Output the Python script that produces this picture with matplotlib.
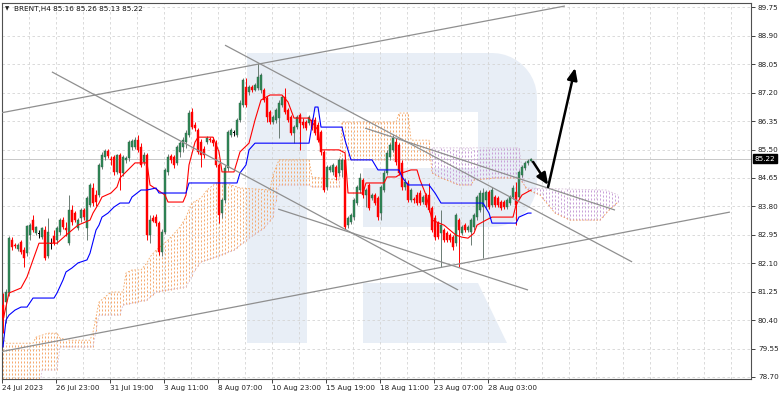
import numpy as np
import matplotlib
matplotlib.use("Agg")
import matplotlib.pyplot as plt
from matplotlib.patches import Polygon

# BRENT H4 candles, one value per bar (bar 0 = 24 Jul 2023)
opens = [80.85, 80.94, 81.21, 82.79, 82.64, 82.52, 82.73, 82.49, 82.40, 82.94,
         83.39, 83.00, 82.97, 82.88, 83.09, 82.32, 82.67, 82.91, 82.79, 83.03,
         83.39, 83.15, 82.70, 83.69, 83.60, 83.15, 83.45, 83.69, 83.15, 83.84,
         84.35, 84.14, 84.14, 84.98, 85.28, 85.46, 85.22, 85.28, 84.83, 85.34,
         84.80, 85.19, 85.25, 85.57, 85.57, 85.78, 85.57, 85.13, 85.34, 82.94,
         83.45, 83.48, 83.30, 82.43, 83.03, 84.83, 85.31, 85.28, 85.10, 85.43,
         85.57, 85.72, 85.93, 86.62, 86.23, 86.08, 85.72, 85.52, 85.72, 85.81,
         85.78, 85.69, 85.04, 83.60, 83.99, 84.95, 85.93, 85.99, 85.93, 86.38,
         86.83, 87.37, 87.22, 87.37, 87.28, 87.34, 87.28, 87.28, 87.04, 86.62,
         86.32, 86.38, 86.44, 86.83, 87.07, 86.68, 86.47, 85.99, 86.17, 86.53,
         86.32, 86.32, 86.29, 86.38, 86.38, 86.23, 86.02, 85.43, 84.38, 84.89,
         84.83, 84.98, 84.80, 84.89, 85.19, 83.24, 83.33, 83.48, 83.90, 84.29,
         84.59, 84.14, 84.44, 84.05, 84.14, 84.05, 83.60, 84.29, 84.80, 85.28,
         85.49, 85.72, 85.63, 85.10, 84.38, 84.50, 83.99, 84.02, 84.14, 84.20,
         83.93, 84.14, 84.14, 83.75, 83.45, 83.30, 83.00, 83.09, 83.00, 82.94,
         82.88, 82.70, 83.39, 83.00, 83.24, 83.09, 83.03, 83.18, 83.48, 83.69,
         83.78, 83.99, 84.23, 83.84, 84.08, 84.05, 83.93, 83.93, 83.78, 83.90,
         84.08, 84.23, 84.08, 84.74, 84.95, 85.10, 85.16]
highs = [81.21, 81.33, 82.91, 82.88, 82.70, 82.70, 82.79, 82.58, 83.24, 83.30,
         83.54, 83.21, 83.09, 83.18, 83.21, 83.45, 82.85, 83.09, 83.21, 83.45,
         83.48, 83.33, 84.14, 83.84, 83.66, 83.45, 83.75, 83.75, 84.11, 84.50,
         84.50, 84.29, 85.10, 85.43, 85.52, 85.52, 85.31, 85.34, 85.37, 85.40,
         85.34, 85.31, 85.78, 85.81, 85.87, 85.93, 85.69, 85.43, 85.40, 83.54,
         83.54, 83.57, 83.36, 83.12, 84.95, 85.37, 85.37, 85.34, 85.63, 85.75,
         85.87, 86.08, 86.68, 86.74, 86.32, 86.14, 85.81, 85.60, 85.90, 85.87,
         85.87, 85.78, 85.10, 84.05, 85.04, 86.08, 86.14, 86.08, 86.44, 86.98,
         87.64, 87.64, 87.43, 87.43, 87.49, 88.09, 87.79, 87.34, 87.10, 86.68,
         86.53, 86.74, 86.98, 87.13, 87.34, 86.74, 86.53, 86.23, 86.53, 86.59,
         86.44, 86.38, 86.53, 86.44, 86.47, 86.32, 86.08, 85.49, 85.04, 85.04,
         85.10, 85.04, 85.25, 85.25, 85.25, 83.51, 83.60, 84.05, 84.44, 84.80,
         84.65, 84.35, 84.50, 84.20, 84.20, 84.11, 84.44, 84.89, 85.49, 85.69,
         85.93, 85.84, 85.69, 85.19, 84.65, 84.59, 84.35, 84.08, 84.23, 84.29,
         84.14, 84.20, 84.50, 83.81, 83.54, 83.36, 83.69, 83.15, 83.06, 83.00,
         82.94, 83.60, 83.45, 83.24, 83.30, 83.24, 83.45, 83.60, 84.14, 84.29,
         84.35, 84.29, 84.29, 84.38, 84.14, 84.11, 83.99, 83.99, 84.05, 84.14,
         84.44, 84.53, 84.89, 85.04, 85.16, 85.22, 85.26]
lows = [80.01, 80.31, 81.12, 82.49, 82.55, 82.46, 82.38, 81.99, 82.32, 82.79,
        83.03, 82.94, 82.85, 82.82, 82.20, 82.26, 82.52, 82.64, 82.67, 82.94,
        83.12, 82.91, 82.64, 83.24, 83.33, 83.09, 83.33, 83.39, 82.79, 83.78,
        83.81, 83.81, 84.08, 84.92, 85.19, 85.25, 85.04, 84.74, 84.77, 84.29,
        84.71, 85.10, 85.16, 85.49, 85.52, 85.43, 84.98, 85.04, 82.79, 82.70,
        83.33, 83.21, 82.35, 82.32, 82.97, 84.74, 85.10, 84.95, 85.04, 85.28,
        85.43, 85.55, 85.87, 86.11, 86.05, 85.37, 84.98, 85.25, 85.66, 85.72,
        85.60, 84.98, 83.30, 83.45, 83.90, 84.86, 85.87, 85.90, 85.87, 86.32,
        86.77, 86.77, 87.13, 87.22, 87.25, 87.28, 87.19, 86.92, 86.32, 86.26,
        86.26, 86.29, 85.84, 86.77, 86.56, 86.32, 85.93, 85.69, 86.11, 85.49,
        86.14, 86.08, 86.23, 86.08, 85.93, 85.72, 85.34, 84.23, 84.29, 84.83,
        84.74, 84.59, 84.71, 84.68, 83.12, 83.15, 83.27, 83.39, 83.84, 84.20,
        84.05, 83.78, 83.69, 83.99, 83.84, 83.39, 83.39, 84.23, 84.74, 85.19,
        85.43, 85.04, 84.74, 84.29, 84.29, 83.93, 83.93, 83.90, 83.84, 83.84,
        83.87, 83.78, 83.63, 83.03, 82.79, 82.82, 81.99, 82.73, 82.73, 82.73,
        82.49, 82.61, 81.99, 82.94, 83.03, 83.03, 82.64, 83.09, 83.39, 83.63,
        82.26, 83.72, 83.72, 83.78, 83.78, 83.78, 83.69, 83.72, 83.72, 83.84,
        84.02, 83.24, 84.02, 84.68, 84.89, 85.04, 85.13]
closes = [80.46, 81.24, 82.85, 82.58, 82.61, 82.64, 82.43, 82.26, 83.21, 83.24,
          83.09, 83.18, 82.97, 83.15, 82.26, 83.03, 82.67, 82.70, 83.15, 83.39,
          83.18, 83.09, 83.69, 83.33, 83.39, 83.39, 83.69, 83.48, 84.05, 84.44,
          83.90, 83.93, 85.04, 85.34, 85.46, 85.31, 85.19, 84.83, 85.34, 84.80,
          85.28, 85.25, 85.72, 85.75, 85.78, 85.49, 85.04, 85.34, 82.94, 83.39,
          83.36, 83.30, 82.43, 83.03, 84.89, 85.28, 85.19, 85.04, 85.57, 85.69,
          85.78, 85.99, 86.59, 86.17, 86.14, 85.43, 85.34, 85.34, 85.84, 85.78,
          85.69, 85.04, 83.54, 83.99, 84.95, 86.02, 86.08, 85.99, 86.38, 86.89,
          87.58, 86.83, 87.37, 87.28, 87.43, 87.67, 87.73, 86.98, 86.47, 86.32,
          86.47, 86.68, 86.89, 87.07, 86.62, 86.38, 85.99, 86.17, 86.47, 86.29,
          86.23, 86.14, 86.47, 86.14, 85.99, 85.78, 85.43, 84.29, 84.98, 84.98,
          85.04, 84.68, 85.19, 85.19, 83.18, 83.45, 83.54, 83.99, 84.38, 84.65,
          84.14, 84.29, 83.75, 84.14, 83.90, 83.48, 84.38, 84.80, 85.40, 85.63,
          85.84, 85.13, 84.80, 84.38, 84.53, 83.99, 84.29, 83.99, 83.90, 83.90,
          84.08, 83.84, 83.69, 83.09, 82.88, 82.88, 83.24, 82.79, 82.79, 82.79,
          82.58, 83.54, 83.09, 83.18, 83.09, 83.18, 83.39, 83.54, 84.08, 84.20,
          84.20, 84.23, 83.78, 84.29, 83.84, 83.84, 83.75, 83.78, 83.99, 84.08,
          84.35, 83.84, 84.83, 84.98, 85.10, 85.16, 85.22]

# Ichimoku lines, read as (bar, price) vertices
tenkan_bar = [0, 2, 6, 8, 10, 12, 18, 21, 25, 29, 30, 32, 33, 36, 38, 39, 41, 44, 48, 49,
              54, 55, 60, 61, 62, 64, 65, 70, 72, 73, 77, 79, 82, 84, 86, 89, 93, 95, 97, 102,
              105, 106, 112, 114, 115, 120, 121, 127, 128, 131, 133, 136, 138, 139, 141, 142,
              143, 147, 151, 153, 155, 157, 158, 161, 163, 170, 171, 173, 176]
tenkan_val = [80.40, 81.21, 81.36, 81.69, 82.20, 82.70, 82.70, 82.94, 83.24, 83.39,
              83.60, 83.90, 84.08, 84.20, 84.38, 84.65, 84.83, 85.10, 85.10, 84.44,
              84.14, 83.93, 83.93, 84.14, 85.04, 85.72, 85.87, 85.87, 85.43, 84.83,
              84.83, 85.43, 85.69, 86.38, 86.98, 87.13, 87.13, 86.92, 86.44, 86.44,
              86.08, 85.49, 85.49, 85.40, 84.20, 84.20, 84.50, 84.50, 84.68, 84.68,
              84.80, 84.89, 84.89, 84.59, 84.14, 83.78, 83.39, 83.24, 82.94, 82.88,
              82.85, 83.00, 83.24, 83.39, 83.48, 83.48, 83.84, 84.14, 84.29]
kijun_bar = [0, 1, 2, 4, 6, 8, 10, 17, 18, 20, 21, 23, 25, 28, 29, 31, 32, 33, 35, 37,
             39, 42, 43, 46, 48, 51, 52, 61, 62, 78, 79, 81, 82, 84, 102, 104, 105, 106,
             113, 114, 116, 123, 125, 132, 133, 135, 142, 144, 146, 160, 162, 163, 171,
             172, 175, 176]
kijun_val = [79.60, 80.40, 80.55, 80.70, 80.79, 80.79, 81.06, 81.06, 81.21, 81.60,
             81.84, 81.96, 82.11, 82.20, 82.40, 83.09, 83.24, 83.48, 83.60, 83.78,
             83.90, 83.90, 84.08, 84.29, 84.29, 84.35, 84.20, 84.20, 84.50, 84.50,
             84.80, 85.04, 85.49, 85.69, 85.69, 86.77, 86.77, 86.17, 86.17, 85.78,
             85.19, 85.19, 84.89, 84.89, 84.68, 84.44, 84.44, 84.20, 83.90, 83.90,
             83.60, 83.30, 83.30, 83.48, 83.60, 83.60]
span_a_bar = [0, 1, 10, 11, 15, 18, 19, 22, 29, 30, 31, 32, 36, 40, 41, 43, 46, 48, 49, 51,
              55, 59, 61, 63, 66, 68, 71, 76, 79, 89, 90, 92, 102, 103, 112, 113, 131, 132,
              135, 136, 142, 143, 146, 152, 156, 157, 164, 172, 175, 179, 184, 189, 199,
              202, 205]
span_a_val = [79.89, 79.71, 79.71, 79.89, 80.01, 80.01, 79.86, 79.80, 79.80, 80.04,
              80.49, 80.94, 81.24, 81.24, 81.81, 81.90, 81.90, 82.11, 82.29, 82.49,
              82.79, 83.18, 83.48, 83.90, 84.05, 84.29, 84.50, 84.44, 84.35, 84.29,
              84.74, 85.19, 85.19, 84.68, 84.59, 86.32, 86.32, 86.59, 86.59, 85.78,
              85.78, 84.80, 84.65, 84.44, 84.44, 84.59, 84.65, 84.65, 84.29, 84.14,
              83.60, 83.39, 83.39, 83.69, 83.93]
span_b_bar = [0, 12, 13, 18, 19, 30, 32, 39, 40, 48, 51, 61, 64, 66, 71, 77, 82, 87, 90, 92,
              102, 103, 112, 113, 142, 143, 172, 174, 201, 205]
span_b_val = [78.16, 78.16, 78.91, 78.91, 79.60, 79.60, 80.55, 80.55, 80.85, 81.00,
              81.24, 81.39, 81.90, 82.14, 82.29, 82.49, 82.85, 83.15, 83.48, 84.44,
              84.44, 84.38, 84.38, 85.19, 85.19, 85.55, 85.55, 84.35, 84.29, 84.14]

# hand drawn trend lines and forecast arrows, (bar, price) end points
trend_lines = [((-1, 86.59), (187.3, 89.79)),
               ((-1, 79.45), (242.3, 83.63)),
               ((16.3, 87.82), (151.7, 81.30)),
               ((74.0, 88.62), (209.7, 82.14)),
               ((91.7, 83.72), (175.0, 81.30)),
               ((120.7, 86.14), (204.0, 83.69))]
arrows = [((176.7, 85.13), (181.7, 84.44)),
          ((181.7, 84.38), (190.7, 87.94))]

time_labels = ["24 Jul 2023", "26 Jul 23:00", "31 Jul 19:00", "3 Aug 11:00", "8 Aug 07:00",
               "10 Aug 23:00", "15 Aug 19:00", "18 Aug 11:00", "23 Aug 07:00", "28 Aug 03:00"]
price_ticks = [78.70, 79.55, 80.40, 81.25, 82.10, 82.95, 83.80, 84.65, 85.50, 86.35,
               87.20, 88.05, 88.90, 89.75]
last_price = 85.22
header = "BRENT,H4 85.16 85.26 85.13 85.22"

W, H = 782, 396
FS = 5.2
fig = plt.figure(figsize=(W / 100, H / 100), dpi=100)
ax = fig.add_axes([2 / W, 17 / H, 749 / W, 376 / H])
ax.set_xlim(-1 / 3, 249.33)
ax.set_ylim(78.64, 89.88)

# watermark "R" (pixel outline converted to axes fraction)
def px(pts):
    return [((x - 2) / 749, (379 - y) / 376) for x, y in pts]

wm = "#e8eef6"
t = np.linspace(np.pi / 2, 0, 12)
arc1 = list(zip(492 + 45 * np.cos(t), 98 - 45 * np.sin(t)))
t2 = np.linspace(0, np.pi / 2, 12)
arc2 = list(zip(492 + 45 * np.cos(t2), 182 + 45 * np.sin(t2)))
stem = [(247, 53), (307, 53), (307, 343), (247, 343)]
bowl = [(306, 53)] + arc1 + arc2 + [(363, 227), (363, 168), (478, 168), (478, 112), (306, 112)]
leg = [(363, 283), (478, 283), (507, 343), (363, 343)]
for shape in (stem, bowl, leg):
    ax.add_patch(Polygon(px(shape), closed=True, transform=ax.transAxes,
                         fc=wm, ec="none", zorder=0))

# grid
for p in price_ticks:
    ax.axhline(p, color="#d4d4d4", lw=0.6, ls=(0, (3, 3)), zorder=1)
for b in range(9, 250, 9):
    ax.axvline(b - 0.33, color="#d4d4d4", lw=0.6, ls=(0, (3, 3)), zorder=1)
ax.axhline(last_price, color="#c8c8c8", lw=0.7, zorder=1.5)

# Ichimoku cloud (dotted columns)
cb = np.arange(0, max(span_a_bar) + 1)
sa = np.interp(cb, span_a_bar, span_a_val)
sb = np.interp(cb, span_b_bar, span_b_val)
bull = sa >= sb
ax.vlines(cb[bull], np.minimum(sa, sb)[bull], np.maximum(sa, sb)[bull],
          colors="#f5aa70", lw=0.72, linestyles=(0, (2, 2)), zorder=2)
ax.vlines(cb[~bull], np.minimum(sa, sb)[~bull], np.maximum(sa, sb)[~bull],
          colors="#c9a0d8", lw=0.72, linestyles=(0, (2, 2)), zorder=2)
ax.plot(span_a_bar, span_a_val, color="#f4a460", lw=0.6, ls=(0, (2, 2)), zorder=2.1)
ax.plot(span_b_bar, span_b_val, color="#d8bfd8", lw=0.6, ls=(0, (2, 2)), zorder=2.1)

# candles
o = np.array(opens)
h = np.array(highs)
l = np.array(lows)
c = np.array(closes)
x = np.arange(len(o))
up = c > o
dn = c < o
dj = c == o
ax.vlines(x[up], l[up], h[up], colors="#6b7b73", lw=0.7, zorder=4)
ax.vlines(x[dn], l[dn], h[dn], colors="#ff0000", lw=0.7, zorder=4)
ax.vlines(x[dj], l[dj], h[dj], colors="#000000", lw=0.7, zorder=4)
body = np.maximum(np.abs(c - o), 0.025)
ax.bar(x[up], body[up], bottom=o[up], width=0.72, color="#2e8b57",
       edgecolor="#2f5e48", lw=0.3, zorder=5)
ax.bar(x[dn], body[dn], bottom=c[dn], width=0.72, color="#ff0000",
       edgecolor="#ff0000", lw=0.3, zorder=5)
ax.bar(x[dj], body[dj], bottom=o[dj], width=0.9, color="#000000", lw=0, zorder=5)

# tenkan / kijun
ax.plot(tenkan_bar, tenkan_val, color="#ff0000", lw=0.8, zorder=6)
ax.plot(kijun_bar, kijun_val, color="#0000ff", lw=0.8, zorder=6)

# trend lines
for (x0, y0), (x1, y1) in trend_lines:
    ax.plot([x0, x1], [y0, y1], color="#8f8f8f", lw=0.9, zorder=7, solid_capstyle="butt")

# forecast arrows
for (x0, y0), (x1, y1) in arrows:
    ax.annotate("", xy=(x1, y1), xytext=(x0, y0),
                arrowprops=dict(arrowstyle="-|>,head_length=0.7,head_width=0.3",
                                color="black", lw=1.8, shrinkA=0, shrinkB=0),
                zorder=8)

# axes styling
for s in ax.spines.values():
    s.set_color("#505050")
    s.set_linewidth(0.8)
ax.yaxis.tick_right()
ax.set_yticks(price_ticks)
ax.set_yticklabels(["%.2f" % p for p in price_ticks])
ax.set_xticks([18 * k - 0.33 for k in range(len(time_labels))])
ax.set_xticklabels(time_labels, ha="left")
ax.tick_params(axis="y", length=3, width=0.6, pad=2, labelsize=FS, colors="#222222")
ax.tick_params(axis="x", length=3, width=0.6, pad=1.5, labelsize=FS, colors="#222222")

ax.annotate("%.2f" % last_price, xy=(1, last_price), xycoords=("axes fraction", "data"),
            xytext=(2.6, 0), textcoords="offset points", ha="left", va="center",
            fontsize=FS, color="white",
            bbox=dict(boxstyle="square,pad=0.2", fc="black", ec="black"), zorder=10,
            annotation_clip=False)

fig.text(5 / W, 1 - 8.5 / H, "\u25bc", fontsize=4, va="center", color="#222222")
fig.text(14 / W, 1 - 8.5 / H, header, fontsize=FS, va="center", color="#111111")

fig.savefig("out.png", dpi=100)
